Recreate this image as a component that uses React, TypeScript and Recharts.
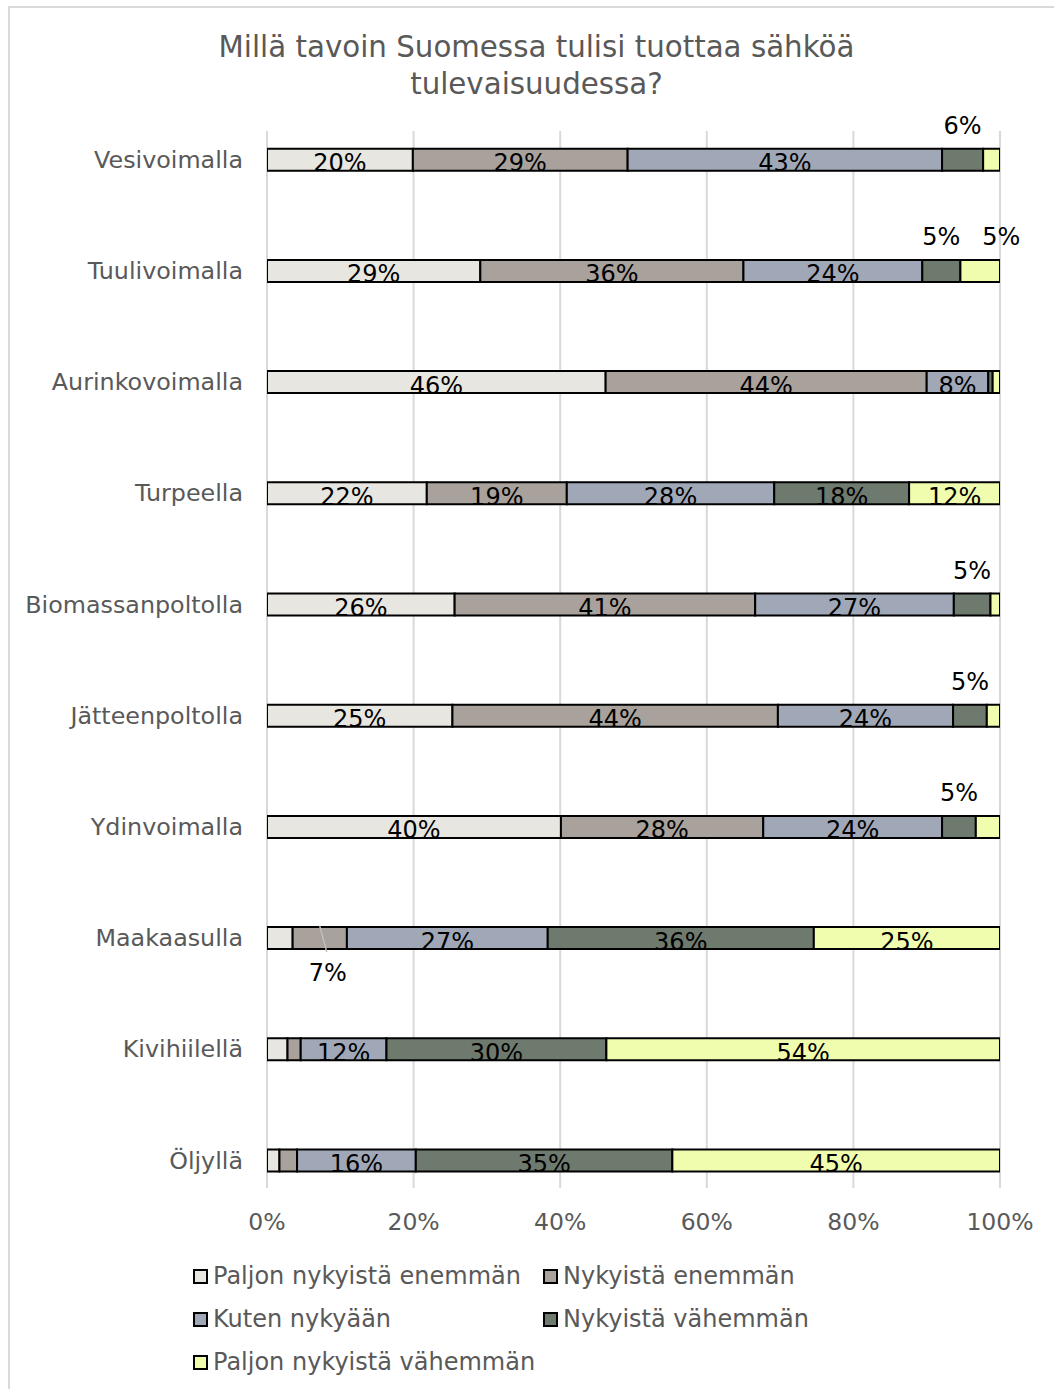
import React from 'react';
import { BarChart, Bar, XAxis, YAxis, CartesianGrid, LabelList, Legend } from 'recharts';

// Survey answers per energy source, share of respondents (%)
const categories = [
  'Vesivoimalla',
  'Tuulivoimalla',
  'Aurinkovoimalla',
  'Turpeella',
  'Biomassanpoltolla',
  'Jätteenpoltolla',
  'Ydinvoimalla',
  'Maakaasulla',
  'Kivihiilellä',
  'Öljyllä'
];

const paljonEnemman = [19.9, 29.1, 46.2, 21.8, 25.6, 25.3, 40.1, 3.5, 2.8, 1.7];
const nykyistaEnemman = [29.3, 35.9, 43.8, 19.1, 41.0, 44.4, 27.6, 7.4, 1.8, 2.4];
const kutenNykyaan = [42.9, 24.4, 8.4, 28.3, 27.1, 23.9, 24.4, 27.4, 11.7, 16.2];
const nykyistaVahemman = [5.6, 5.2, 0.6, 18.4, 5.0, 4.6, 4.6, 36.3, 30.0, 35.0];
const paljonVahemman = [2.3, 5.4, 1.0, 12.4, 1.3, 1.8, 3.3, 25.4, 53.7, 44.7];

const seriesNames = [
  'Paljon nykyistä enemmän',
  'Nykyistä enemmän',
  'Kuten nykyään',
  'Nykyistä vähemmän',
  'Paljon nykyistä vähemmän'
];

const xTicks = [0, 20, 40, 60, 80, 100];

const seriesValues = [paljonEnemman, nykyistaEnemman, kutenNykyaan, nykyistaVahemman, paljonVahemman];
const COLORS = ['#E8E6E0', '#A9A19B', '#A0A8B8', '#6E7A6D', '#F1FDAE'];

const FONT = '"DejaVu Sans", Verdana, sans-serif';
const GREY = '#595959';

const rows = categories.map((name, i) => {
  const row: Record<string, string | number> = { name };
  seriesValues.forEach((vals, s) => {
    row[`s${s}`] = vals[i];
  });
  return row;
});

// Big segments get the value inside, 4-7 % above the bar, ~7 % below with a leader line
const makeLabel = (seriesIndex: number) => (props: any) => {
  const box = props.viewBox && props.viewBox.width !== undefined ? props.viewBox : props;
  const x = Number(box.x);
  const y = Number(box.y);
  const width = Number(box.width);
  const height = Number(box.height);
  const v = Number(props.value);
  if (!(v >= 4)) return null;
  const text = `${Math.round(v)}%`;
  const cx = x + width / 2;
  const common = { fontFamily: FONT, fontSize: 24, fill: '#000', textAnchor: 'middle' as const };

  if (v >= 8) {
    return (
      <text x={cx} y={y + height + 0.5} {...common}>
        {text}
      </text>
    );
  }
  if (v >= 7) {
    return (
      <g>
        <line x1={cx} y1={y - 1} x2={cx + 7} y2={y + height + 3} stroke="#bfbfbf" strokeWidth={1.5} />
        <text x={cx + 8} y={y + height + 32} {...common}>
          {text}
        </text>
      </g>
    );
  }
  const dx = seriesIndex === seriesNames.length - 1 ? 21 : 0;
  return (
    <text x={cx + dx} y={y - 15} {...common}>
      {text}
    </text>
  );
};

const XTick = (props: any) => {
  const { x, y, payload } = props;
  return (
    <text x={x} y={y + 14} textAnchor="middle" fontFamily={FONT} fontSize={23.5} fill={GREY}>
      {`${payload.value}%`}
    </text>
  );
};

const LegendBlock = () => (
  <div style={{ position: 'relative', width: 1054, height: 130, fontFamily: FONT, fontSize: 24, color: GREY }}>
    {seriesNames.map((name, i) => (
      <div
        key={name}
        style={{
          position: 'absolute',
          left: i % 2 === 0 ? 193 : 543,
          top: Math.floor(i / 2) * 43,
          height: 30,
          display: 'flex',
          alignItems: 'center',
          whiteSpace: 'nowrap'
        }}
      >
        <span
          style={{
            display: 'inline-block',
            width: 11,
            height: 11,
            border: '2px solid #000',
            background: COLORS[i],
            marginRight: 5
          }}
        />
        {name}
      </div>
    ))}
  </div>
);

export default function App() {
  return (
    <div style={{ position: 'absolute', left: 0, top: 0, width: 1054, height: 1389, overflow: 'hidden', background: '#fff' }}>
      {/* chart frame */}
      <div
        style={{
          position: 'absolute',
          left: 8,
          top: 6,
          width: 1100,
          height: 1450,
          border: '2px solid #d9d9d9',
          boxSizing: 'border-box'
        }}
      />
      <div
        style={{
          position: 'absolute',
          left: 8,
          top: 28.5,
          width: 1057,
          textAlign: 'center',
          fontFamily: FONT,
          fontSize: 29.3,
          lineHeight: '37px',
          color: GREY
        }}
      >
        Millä tavoin Suomessa tulisi tuottaa sähköä
        <br />
        tulevaisuudessa?
      </div>
      <div style={{ position: 'absolute', left: 0, top: 0 }}>
        <BarChart
          width={1054}
          height={1389}
          data={rows}
          layout="vertical"
          margin={{ top: 103.7, right: 54, bottom: 143.3, left: 8 }}
          barSize={22}
        >
          <CartesianGrid horizontal={false} stroke="#d9d9d9" strokeWidth={2} y={131} height={1057} />
          <XAxis
            type="number"
            domain={[0, 100]}
            ticks={xTicks}
            allowDataOverflow
            axisLine={false}
            tickLine={false}
            tickSize={0}
            tickMargin={0}
            height={30}
            tick={<XTick />}
          />
          <YAxis
            type="category"
            dataKey="name"
            width={259}
            axisLine={false}
            tickLine={false}
            tickSize={0}
            tickMargin={24}
            tick={{ fontFamily: FONT, fontSize: 23.8, fill: GREY }}
          />
          {seriesNames.map((name, s) => (
            <Bar
              key={name}
              dataKey={`s${s}`}
              name={name}
              stackId="a"
              fill={COLORS[s]}
              stroke="#000"
              strokeWidth={2}
              isAnimationActive={false}
            >
              <LabelList dataKey={`s${s}`} content={makeLabel(s)} />
            </Bar>
          ))}
          <Legend
            layout="horizontal"
            verticalAlign="middle"
            align="center"
            content={<LegendBlock />}
            wrapperStyle={{ top: 1261, left: 0, width: 1054 }}
          />
        </BarChart>
      </div>
    </div>
  );
}
